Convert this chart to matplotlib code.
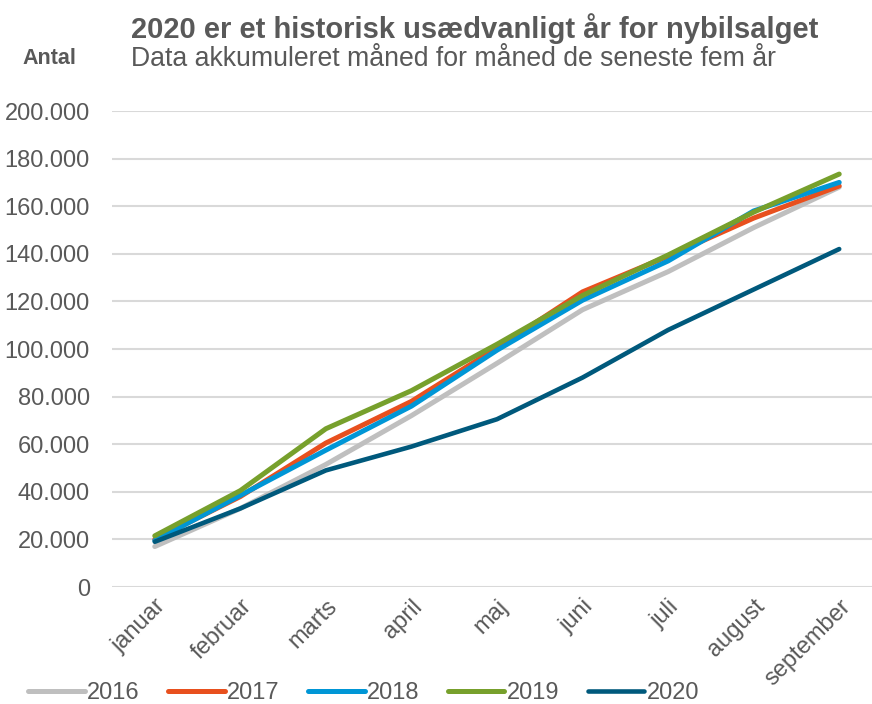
import numpy as np
import matplotlib.pyplot as plt
from matplotlib.ticker import FuncFormatter

plt.rcParams['font.family'] = ['Liberation Sans', 'DejaVu Sans']

# data
maaneder = ['januar', 'februar', 'marts', 'april', 'maj', 'juni', 'juli', 'august', 'september']
aar = ['2016', '2017', '2018', '2019', '2020']
s2016 = [17000, 33000, 51500, 72000, 94000, 116500, 132500, 151000, 168000]
s2017 = [20000, 38000, 60500, 78000, 100500, 124000, 139000, 155000, 168500]
s2018 = [19500, 38500, 57500, 76000, 99500, 120500, 137000, 158000, 170000]
s2019 = [21500, 40500, 66500, 82500, 102000, 122500, 139500, 157500, 173500]
s2020 = [19000, 33000, 49000, 59000, 70500, 88000, 108000, 125000, 142000]
serier = [s2016, s2017, s2018, s2019, s2020]
farver = ['#BFBFBF', '#E8501E', '#0096D6', '#77A02C', '#00597C']
bredder = [3.6, 3.6, 3.6, 3.6, 3.3]

tekst = '#595959'

fig = plt.figure(figsize=(8.72, 7.04), dpi=100)
ax = fig.add_axes([112/872, 1 - 587/704, 770/872, (587 - 111)/704])

x = np.arange(len(maaneder))
for s, f, b, navn in zip(serier, farver, bredder, aar):
    ax.plot(x, s, color=f, lw=b, label=navn, solid_capstyle='round')

ax.set_xlim(-0.5, len(maaneder) - 0.5)
ax.set_ylim(0, 200000)
ax.set_yticks(np.arange(0, 200001, 20000))
ax.yaxis.set_major_formatter(FuncFormatter(lambda v, p: f'{int(v):,}'.replace(',', '.')))
ax.set_xticks(x)
ax.set_xticklabels(maaneder, rotation=45, ha='right', rotation_mode='anchor')
ax.grid(axis='y', color='#D9D9D9', lw=1.5)
ax.set_axisbelow(True)
for sp in ax.spines.values():
    sp.set_visible(False)
ax.tick_params(length=0, colors=tekst, labelsize=17)
ax.tick_params(axis='y', pad=16)
ax.tick_params(axis='x', pad=6)

fig.text(131/872, 1 - 29/704, '2020 er et historisk usædvanligt år for nybilsalget',
         fontsize=21, fontweight='bold', color=tekst, va='center')
fig.text(131/872, 1 - 59/704, 'Data akkumuleret måned for måned de seneste fem år',
         fontsize=19.2, color=tekst, va='center')
fig.text(22/872, 1 - 59/704, 'Antal', fontsize=15.5, fontweight='bold', color=tekst, va='center')

fig.legend(loc='center left', bbox_to_anchor=(28/872, 11/704), ncol=5, frameon=False,
           fontsize=17, handlelength=2.4, handletextpad=0.1, columnspacing=1.2,
           borderpad=0, borderaxespad=0, labelcolor=tekst)

fig.savefig('out.png', dpi=100)
